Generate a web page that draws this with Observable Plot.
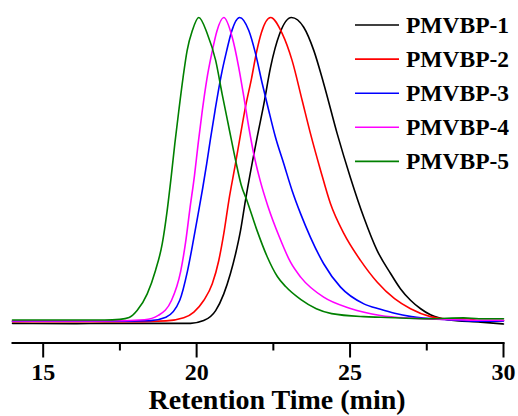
<!DOCTYPE html>
<html>
<head>
<meta charset="utf-8">
<script src="https://cdn.jsdelivr.net/npm/d3@7"></script>
<script src="https://cdn.jsdelivr.net/npm/@observablehq/plot@0.6"></script>
<style>
  html, body { margin: 0; padding: 0; background: #fff; }
  #wrap { position: relative; width: 518px; height: 416px; }
  #legend { position: absolute; left: 0; top: 0; }
</style>
</head>
<body>
<div id="wrap"></div>
<script>
const seriesNames = ["PMVBP-1", "PMVBP-2", "PMVBP-3", "PMVBP-4", "PMVBP-5"];
const seriesColors = ["#000000", "#ff0000", "#0000ff", "#ff00ff", "#008000"];
const majorTicks = [15, 20, 25, 30];
const minorTicks = [17.5, 22.5, 27.5];
const xLabel = "Retention Time (min)";

// [retention time (min), normalized signal]
const pmvbp1 = [[14.0,-0.006],[16.0,-0.007],[17.0,-0.006],[19.5,-0.006],[19.8,-0.006],[20.23,0.003],[20.62,0.036],[20.885,0.091],[21.10,0.157],[21.27,0.223],[21.43,0.299],[21.59,0.398],[21.97,0.605],[22.19,0.715],[22.41,0.837],[22.7,0.945],[23.09,1.0],[23.49,0.968],[23.82,0.891],[24.14,0.783],[24.58,0.618],[25.01,0.474],[25.45,0.342],[25.88,0.234],[26.32,0.158],[26.64,0.108],[26.97,0.07],[27.3,0.042],[27.62,0.022],[28.17,0.006],[29.25,-0.002],[30.0,-0.008]];
const pmvbp2 = [[14.0,-0.001],[17.5,-0.001],[19.0,0.002],[19.58,0.012],[19.91,0.031],[20.23,0.069],[20.51,0.124],[20.72,0.2],[20.885,0.289],[21.05,0.398],[21.25,0.51],[21.43,0.615],[21.6,0.71],[21.79,0.80],[21.95,0.885],[22.11,0.95],[22.41,1.0],[22.79,0.947],[23.11,0.859],[23.44,0.727],[23.71,0.618],[24.04,0.497],[24.36,0.388],[24.80,0.289],[25.34,0.201],[25.88,0.13],[26.45,0.075],[26.97,0.042],[27.62,0.016],[28.17,0.008],[28.8,0.009],[29.25,0.003],[30.0,0.003]];
const pmvbp3 = [[14.0,0.001],[17.0,0.001],[18.5,0.003],[19.0,0.014],[19.45,0.07],[19.7,0.165],[19.9,0.27],[20.06,0.36],[20.2,0.44],[20.33,0.52],[20.45,0.6],[20.6,0.694],[20.8,0.809],[20.98,0.891],[21.13,0.951],[21.40,1.0],[21.70,0.957],[21.92,0.881],[22.14,0.782],[22.35,0.694],[22.57,0.606],[22.84,0.519],[23.11,0.431],[23.39,0.354],[23.71,0.277],[24.14,0.190],[24.69,0.113],[25.45,0.058],[25.99,0.040],[26.45,0.027],[27.0,0.016],[28.17,0.006],[29.25,0.001],[30.0,0.002]];
const pmvbp4 = [[14.0,0.002],[17.0,0.002],[18.3,0.006],[18.75,0.020],[19.18,0.069],[19.48,0.165],[19.64,0.26],[19.78,0.37],[19.93,0.48],[20.05,0.585],[20.18,0.69],[20.33,0.795],[20.5,0.885],[20.66,0.955],[20.885,1.0],[21.16,0.935],[21.37,0.837],[21.54,0.738],[21.70,0.639],[21.86,0.552],[22.08,0.46],[22.32,0.38],[22.7,0.277],[23.06,0.195],[23.39,0.146],[24.14,0.080],[25.01,0.043],[25.99,0.020],[26.97,0.011],[28.17,0.007],[29.25,0.004],[30.0,0.004]];
const pmvbp5 = [[14.0,0.005],[16.0,0.005],[17.0,0.005],[17.5,0.007],[17.8,0.013],[18.06,0.036],[18.39,0.091],[18.66,0.168],[18.88,0.256],[19.04,0.365],[19.17,0.475],[19.29,0.585],[19.42,0.694],[19.56,0.804],[19.69,0.891],[19.86,0.957],[20.07,1.0],[20.35,0.946],[20.62,0.859],[20.83,0.749],[21.05,0.639],[21.27,0.530],[21.45,0.45],[21.65,0.395],[21.97,0.299],[22.3,0.213],[22.63,0.148],[22.9,0.115],[23.4,0.072],[23.9,0.042],[24.4,0.026],[25.45,0.016],[26.0,0.014],[27.6,0.009],[28.7,0.012],[29.2,0.009],[30.0,0.009]];
const seriesData = [pmvbp1, pmvbp2, pmvbp3, pmvbp4, pmvbp5];

const rows = [];
seriesData.forEach((arr, i) => arr.forEach(([t, v]) => rows.push({series: seriesNames[i], t, v})));

const font = "'Liberation Serif', 'Times New Roman', serif";

const chart = Plot.plot({
  width: 518,
  height: 416,
  marginLeft: 12,
  marginRight: 15,
  marginTop: 17,
  marginBottom: 73.5,
  style: {fontFamily: font, fontWeight: "bold", background: "#fff", overflow: "visible"},
  x: {domain: [14, 30]},
  y: {domain: [-0.0707, 1], axis: null},
  color: {domain: seriesNames, range: seriesColors},
  marks: [
    Plot.frame({anchor: "bottom", strokeWidth: 2, stroke: "#000"}),
    Plot.axisX({ticks: majorTicks, tickSize: 15, tickPadding: 5, strokeWidth: 2, fontSize: 24, fontWeight: "bold", fill: "#000", label: null}),
    Plot.axisX({ticks: minorTicks, tickSize: 8, strokeWidth: 2, tickFormat: () => "", label: null}),
    Plot.line(rows, {x: "t", y: "v", z: "series", stroke: "series", strokeWidth: 1.6, curve: "monotone-x"}),
    Plot.text([xLabel], {frameAnchor: "bottom", dx: 19, dy: 66, lineAnchor: "bottom", fontSize: 28, fontWeight: "bold", fill: "#000"})
  ]
});

const wrap = document.getElementById("wrap");
wrap.appendChild(chart);

// Legend overlay
const leg = d3.select(wrap).append("svg")
  .attr("id", "legend").attr("width", 518).attr("height", 416)
  .style("font-family", font).style("font-weight", "bold");
const row0 = 25, rowGap = 34.1;
seriesNames.forEach((name, i) => {
  const y = row0 + i * rowGap;
  leg.append("line").attr("x1", 355).attr("x2", 399).attr("y1", y).attr("y2", y)
    .attr("stroke", seriesColors[i]).attr("stroke-width", 1.6);
  leg.append("text").attr("x", 406).attr("y", y + 8).attr("font-size", 23.5)
    .attr("fill", "#000").text(name);
});
</script>
</body>
</html>
